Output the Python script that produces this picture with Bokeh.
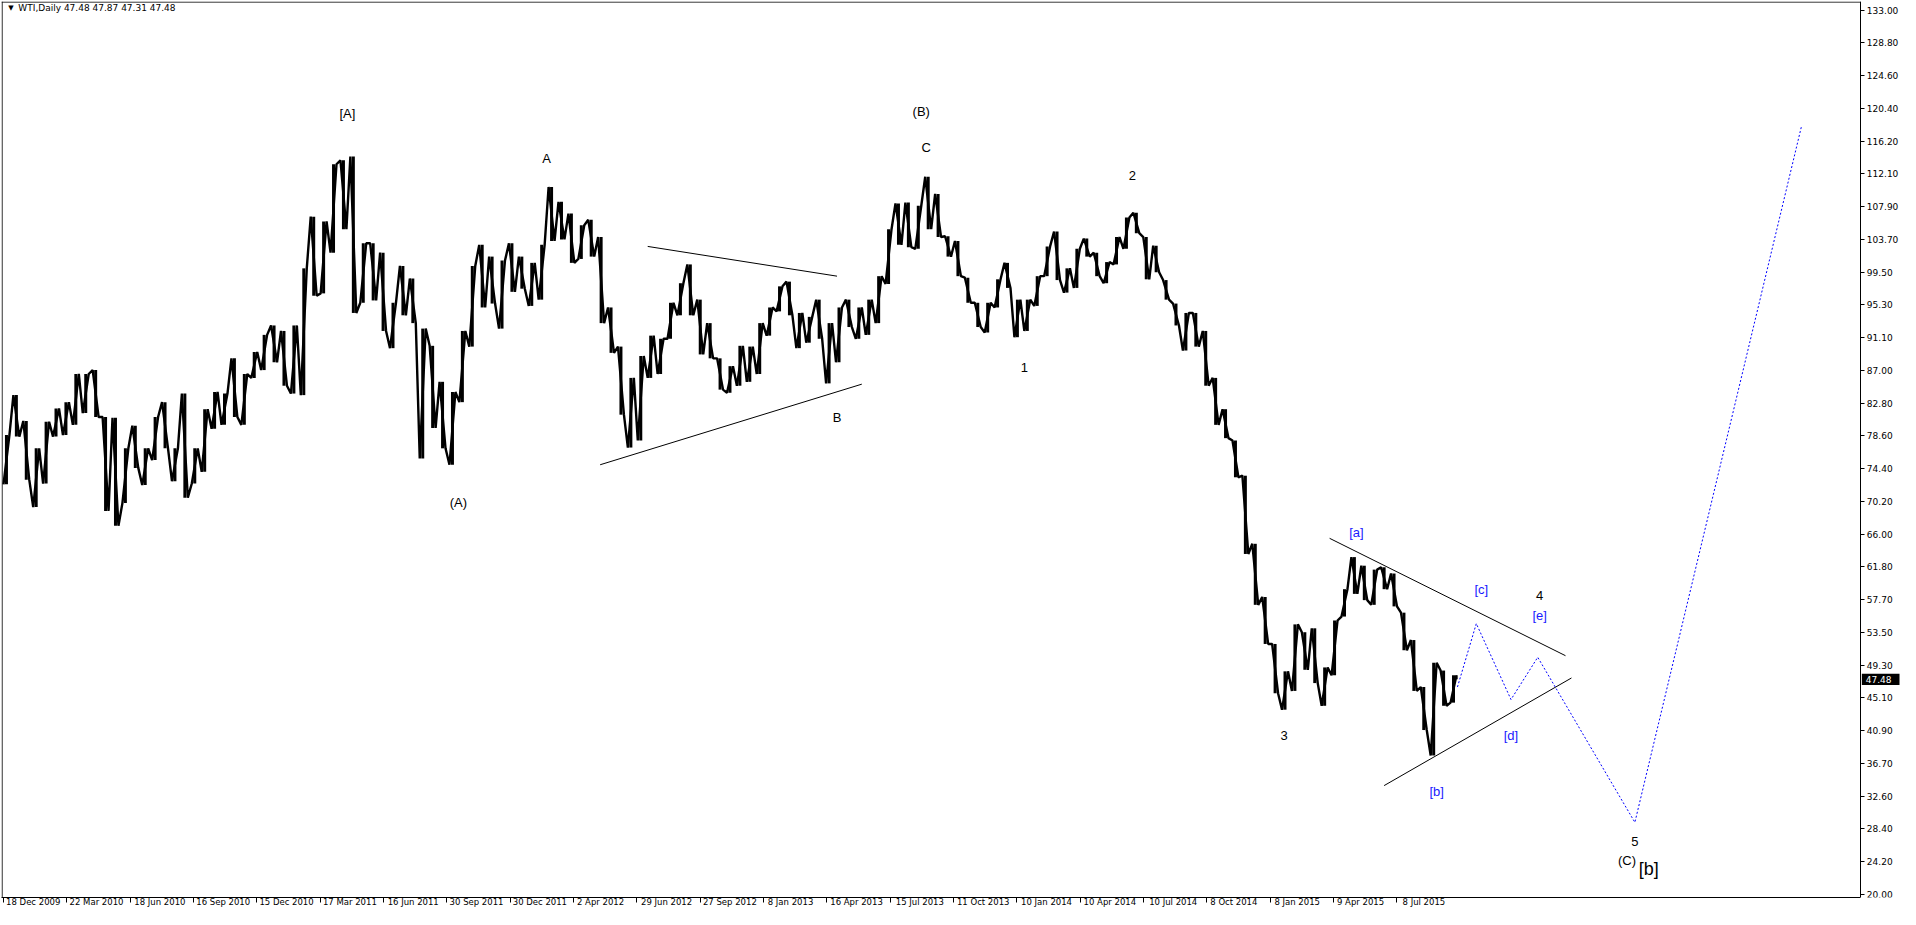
from bokeh.plotting import figure
from bokeh.models import Range1d, FixedTicker, LinearAxis
from bokeh.embed import file_html
from bokeh.resources import INLINE
from bokeh.core.properties import value

# ---------------- data ----------------
date_labels = ["18 Dec 2009", "22 Mar 2010", "18 Jun 2010", "16 Sep 2010", "15 Dec 2010",
               "17 Mar 2011", "16 Jun 2011", "30 Sep 2011", "30 Dec 2011", "2 Apr 2012",
               "29 Jun 2012", "27 Sep 2012", "8 Jan 2013", "16 Apr 2013", "15 Jul 2013",
               "11 Oct 2013", "10 Jan 2014", "10 Apr 2014", "10 Jul 2014", "8 Oct 2014",
               "8 Jan 2015", "9 Apr 2015", "8 Jul 2015"]
price_labels = ["20.00", "24.20", "28.40", "32.60", "36.70", "40.90", "45.10", "49.30",
                "53.50", "57.70", "61.80", "66.00", "70.20", "74.40", "78.60", "82.80",
                "87.00", "91.10", "95.30", "99.50", "103.70", "107.90", "112.10", "116.20",
                "120.40", "124.60", "128.80", "133.00"]

# two-week (10 bar) lows / highs of WTI daily
lows = [72.4, 78.5, 73.0, 69.5, 72.5, 78.5, 78.7, 80.0, 81.5, 81.0,
        69.0, 67.1, 70.0, 74.5, 72.3, 75.5, 77.0, 72.8, 70.7, 72.5,
        74.0, 79.5, 80.0, 81.0, 80.0, 86.0, 87.0, 88.0, 85.0, 84.0,
        83.8, 96.5, 96.8, 102.0, 105.0, 94.3, 95.6, 95.9, 92.0, 89.8,
        94.0, 93.0, 75.7, 79.6, 77.0, 74.9, 82.9, 90.0, 95.0, 95.5,
        92.3, 97.0, 97.4, 95.2, 96.0, 103.5, 103.7, 100.7, 101.2, 101.5,
        93.0, 89.2, 81.3, 77.1, 78.0, 86.0, 86.5, 91.0, 94.0, 94.0,
        89.0, 88.5, 84.5, 84.1, 85.0, 85.5, 86.5, 91.4, 94.5, 94.0,
        89.8, 90.5, 91.0, 85.3, 88.0, 92.5, 91.0, 91.5, 93.0, 98.0,
        103.0, 102.7, 102.5, 105.0, 104.0, 101.5, 99.0, 95.6, 92.5, 91.8,
        95.0, 97.5, 91.2, 92.0, 95.2, 99.0, 98.5, 96.9, 97.5, 101.5,
        99.0, 98.1, 100.5, 102.5, 104.5, 98.6, 99.5, 96.0, 92.7, 89.5,
        90.0, 85.0, 80.0, 78.3, 73.3, 63.5, 57.0, 52.0, 45.7, 43.6,
        46.0, 48.7, 47.0, 44.1, 48.0, 55.5, 58.4, 57.6, 57.0, 59.0,
        56.8, 51.2, 46.0, 41.0, 37.75, 44.1, 44.5]
highs = [78.7, 83.8, 80.5, 77.0, 80.4, 82.1, 82.9, 86.5, 86.5, 87.0,
         81.0, 80.9, 77.0, 79.9, 77.0, 81.0, 82.9, 77.0, 84.0, 77.0,
         82.0, 84.2, 84.0, 88.5, 86.5, 89.3, 91.5, 92.7, 92.0, 92.7,
         100.0, 106.6, 106.0, 113.3, 113.8, 114.3, 103.2, 103.2, 102.0, 95.6,
         100.3, 98.7, 92.3, 90.1, 85.5, 84.2, 92.0, 100.3, 103.0, 101.5,
         101.0, 103.2, 101.5, 100.7, 103.0, 110.4, 108.5, 107.0, 105.5, 106.2,
         104.0, 95.0, 90.0, 86.0, 88.8, 91.4, 91.0, 95.6, 98.1, 100.5,
         96.0, 93.0, 88.5, 87.5, 90.1, 90.0, 93.0, 95.0, 97.7, 98.3,
         94.3, 93.8, 96.0, 93.0, 95.0, 96.0, 95.0, 96.0, 99.0, 105.0,
         108.3, 108.4, 108.0, 111.7, 109.5, 104.1, 103.5, 98.8, 95.6, 95.6,
         98.6, 100.7, 96.0, 96.0, 99.0, 102.8, 104.7, 100.0, 102.5, 103.8,
         102.0, 100.8, 104.0, 106.5, 107.1, 104.0, 102.9, 98.5, 95.5, 94.3,
         94.3, 92.0, 86.0, 82.0, 78.0, 73.5, 64.8, 58.0, 52.0, 48.5,
         54.5, 53.5, 54.0, 49.0, 55.0, 59.0, 63.1, 62.0, 61.5, 61.8,
         61.0, 56.0, 52.5, 46.5, 49.6, 48.6, 48.0]
last_ohlc = ["47.48", "47.87", "47.31", "47.48"]
last_close = 47.48

# trend lines (bar, price)
tri1_upper = [(652, 102.8), (843, 99.0)]
tri1_lower = [(604, 74.9), (868, 85.2)]
tri2_upper = [(1340, 65.5), (1578, 50.5)]
tri2_lower = [(1395, 33.9), (1584, 47.65)]
proj_bars = [1469, 1488, 1523, 1550, 1648, 1816]
proj_price = [46.5, 54.6, 44.9, 50.3, 29.2, 118.1]

black_labels = ["[A]", "A", "(A)", "(B)", "C", "B", "1", "2", "3", "4", "5", "(C)"]
black_lx = [349, 550, 461, 928, 933, 843, 1032, 1141, 1294, 1552, 1648, 1640]
black_ly = [119.8, 114.1, 70.1, 120.0, 115.5, 80.9, 87.3, 111.9, 40.3, 58.2, 26.7, 24.3]
blue_labels = ["[a]", "[b]", "[c]", "[d]", "[e]"]
blue_lx = [1367, 1448, 1493, 1523, 1552]
blue_ly = [66.2, 33.2, 58.9, 40.3, 55.6]

AXIS_X = 1876   # bar position of the price scale line
Y0, Y1 = 19.6, 134.1

# ---------------- figure ----------------
p = figure(width=1900, height=909, output_backend="svg", toolbar_location=None,
           x_range=Range1d(0, 1916), y_range=Range1d(Y0, Y1),
           x_axis_location=None, y_axis_location="right", min_border_left=1, min_border_top=1,
           min_border_right=0, min_border_bottom=0)
p.grid.visible = False
p.outline_line_color = None
p.background_fill_color = "white"
p.border_fill_color = "white"

# price scale, drawn at the right edge of the bar area
n_pt = len(price_labels)
yt = [20 + i * 113 / (n_pt - 1) for i in range(n_pt)]
ya = p.yaxis[0]
ya.ticker = FixedTicker(ticks=yt)
ya.major_label_overrides = {t: s for t, s in zip(yt, price_labels)}
ya.fixed_location = AXIS_X
ya.axis_line_color = "black"
ya.major_tick_line_color = "black"
ya.minor_tick_line_color = None
ya.major_tick_in = 0
ya.major_tick_out = 4
ya.major_label_text_font = "DejaVu Sans"
ya.major_label_text_font_size = "9px"
ya.major_label_text_color = "black"
ya.major_label_standoff = 2

# bottom axis: tick marks on one axis, left-aligned date texts on a second one
xt = [2 + i * 63.9 for i in range(len(date_labels))]
ax_ticks = LinearAxis(ticker=FixedTicker(ticks=xt), axis_line_color="black", bounds=(0, AXIS_X),
                      major_tick_line_color="black", minor_tick_line_color=None,
                      major_tick_in=0, major_tick_out=5, major_label_standoff=0,
                      major_label_text_font_size="0px")
ax_ticks.major_label_overrides = {t: "" for t in xt}
p.add_layout(ax_ticks, "below")

def text_w(s):
    w = 0.0
    for ch in s:
        if ch.isdigit():
            w += 5.4
        elif ch == " ":
            w += 2.7
        elif ch.isupper():
            w += 6.2
        else:
            w += 5.0
    return w

xl = [t + 3 + text_w(s) / 2 for t, s in zip(xt, date_labels)]
ax_lab = LinearAxis(ticker=FixedTicker(ticks=xl), axis_line_color=None,
                    major_tick_line_color=None, minor_tick_line_color=None,
                    major_tick_in=0, major_tick_out=0, major_label_standoff=-6,
                    major_label_text_font="DejaVu Sans", major_label_text_font_size="8.5px",
                    major_label_text_color="black")
ax_lab.major_label_overrides = {t: s for t, s in zip(xl, date_labels)}
p.add_layout(ax_lab, "below")

# chart border (left and top)
p.line([0.6, 0.6], [Y0, Y1], line_color="black", line_width=1)
p.line([0, AXIS_X], [Y1 - 0.07, Y1 - 0.07], line_color="black", line_width=1)

# price bars: vertical ranges and a zig-zag joining them
n = len(lows)
xs = [10 * i + 5 for i in range(n)]
p.segment(x0=xs, y0=lows, x1=xs, y1=highs, line_color="black", line_width=3)
mids = [(a + b) / 2 for a, b in zip(lows, highs)]
zx, zy = [], []
for i in range(n):
    nxt = mids[i + 1] if i + 1 < n else last_close
    if nxt >= mids[i]:
        zx += [xs[i] - 3, xs[i] + 3]; zy += [lows[i], highs[i]]
    else:
        zx += [xs[i] - 3, xs[i] + 3]; zy += [highs[i], lows[i]]
zx.append(xs[-1] + 3); zy.append(last_close)
p.line(zx, zy, line_color="black", line_width=2.4)

# trend lines
for ln in (tri1_upper, tri1_lower, tri2_upper, tri2_lower):
    p.line([ln[0][0], ln[1][0]], [ln[0][1], ln[1][1]], line_color="black", line_width=1)
p.line(proj_bars, proj_price, line_color="#0000ff", line_width=1, line_dash="2 2")

# wave labels
p.text(x=black_lx, y=black_ly, text=black_labels, text_font=value("Liberation Sans"),
       text_font_size="13px", text_color="#000000", text_align="center", text_baseline="middle")
p.text(x=[1662], y=[23.2], text=["[b]"], text_font=value("Liberation Sans"),
       text_font_size="18px", text_color="#000000", text_align="center", text_baseline="middle")
p.text(x=blue_lx, y=blue_ly, text=blue_labels, text_font=value("Liberation Sans"),
       text_font_size="13px", text_color="#1a1aff", text_align="center", text_baseline="middle")

# header
p.text(x=[9.5], y=[133.3], text=["\u25bc"], text_font=value("DejaVu Sans"), text_font_size="7px",
       text_color="black", text_align="center", text_baseline="middle")
p.text(x=[17], y=[133.3], text=["WTI,Daily  " + " ".join(last_ohlc)], text_font=value("DejaVu Sans"),
       text_font_size="9px", text_color="black", text_align="left", text_baseline="middle")

# current price tag on the price scale
p.quad(left=[AXIS_X + 1], right=[AXIS_X + 39], bottom=[last_close - 0.72], top=[last_close + 0.72],
       fill_color="black", line_color=None)
p.text(x=[AXIS_X + 5], y=[last_close], text=[last_ohlc[-1]], text_font=value("DejaVu Sans"),
       text_font_size="9px", text_color="white", text_align="left", text_baseline="middle")

open("out.html", "w").write(file_html(p, INLINE))
